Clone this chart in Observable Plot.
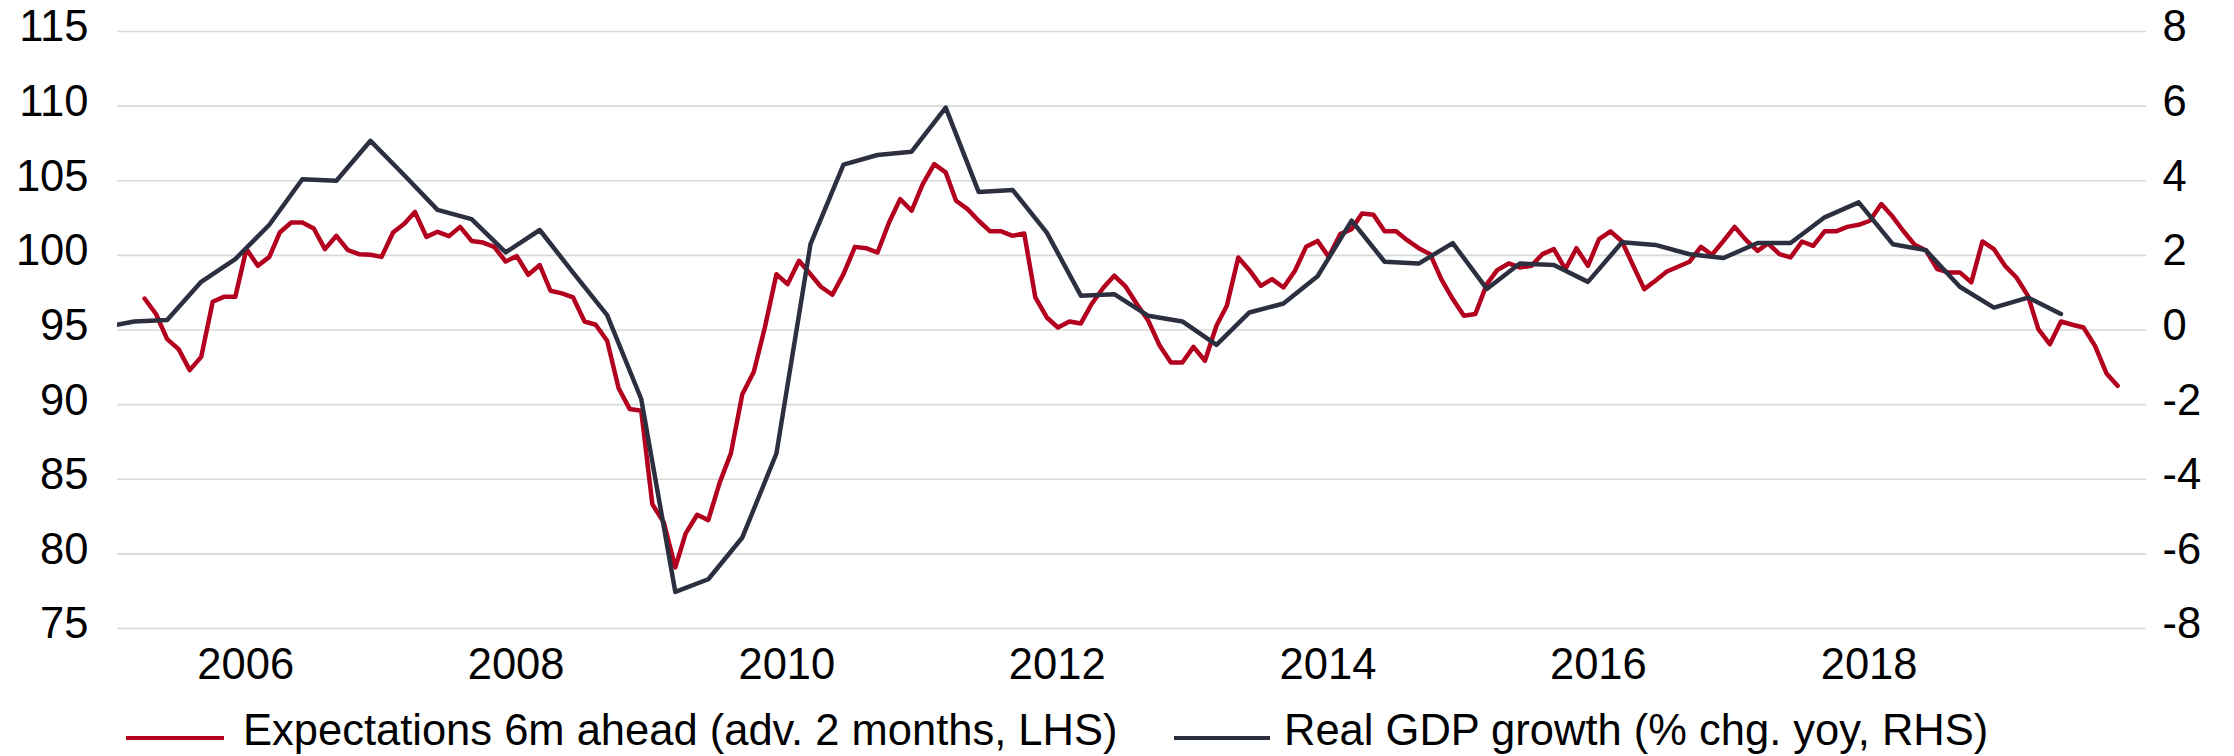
<!DOCTYPE html>
<html><head><meta charset="utf-8">
<script src="https://cdn.jsdelivr.net/npm/d3@7"></script>
<script src="https://cdn.jsdelivr.net/npm/@observablehq/plot@0.6"></script>
<style>
html,body{margin:0;padding:0;background:#fff;}
#wrap{position:relative;width:2234px;height:756px;overflow:hidden;font-family:"Liberation Sans",Arial,sans-serif;}
#wrap svg{position:absolute;left:0;top:0;}
.sw{position:absolute;height:4.5px;}
.lt{position:absolute;font-size:43.5px;line-height:43.5px;white-space:nowrap;color:#000;}
</style></head><body><div id="wrap"></div>
<script>
// Expectations 6m ahead (advanced 2 months, LHS), monthly from Mar 2005
const expStart = "2005-03-15";
const expValues = [
97.11,96.07,94.39,93.72,92.31,93.20,96.89,97.22,97.22,100.42,99.30,99.90,
101.53,102.20,102.20,101.80,100.42,101.31,100.35,100.08,100.04,99.90,101.53,102.13,
102.91,101.24,101.58,101.29,101.91,100.97,100.86,100.57,99.59,99.95,98.70,99.35,
97.63,97.45,97.18,95.57,95.35,94.28,91.10,89.70,89.59,83.33,82.10,79.09,
81.37,82.62,82.26,84.79,86.73,90.70,92.20,95.20,98.74,98.07,99.64,98.74,
97.90,97.36,98.74,100.57,100.48,100.19,102.20,103.77,102.99,104.77,106.11,105.56,
103.66,103.10,102.32,101.61,101.61,101.31,101.47,97.18,95.84,95.17,95.57,95.44,
96.74,97.81,98.64,97.90,96.74,95.62,93.94,92.82,92.82,93.87,92.94,95.28,
96.62,99.86,99.01,97.96,98.41,97.85,98.97,100.57,100.97,99.90,101.42,101.76,
102.81,102.72,101.61,101.61,101.02,100.48,100.08,98.41,97.07,95.95,96.07,98.07,
99.01,99.46,99.19,99.30,100.08,100.42,99.08,100.48,99.30,101.09,101.61,100.93,
99.37,97.74,98.30,98.92,99.24,99.57,100.57,100.04,100.97,101.91,101.02,100.30,
100.80,100.09,99.86,100.93,100.64,101.61,101.61,101.91,102.05,102.32,103.44,102.58,
101.65,100.71,100.35,99.08,98.86,98.86,98.19,100.93,100.42,99.30,98.52,97.29,
95.06,94.05,95.57,95.35,95.17,93.94,92.09,91.26
];
// Real GDP growth (% yoy, RHS), quarterly from Q4 2004 (plotted mid-quarter)
const gdpStart = "2004-11-15";
const gdpValues = [
0.05,
0.23,0.27,1.29,1.90,
2.82,4.04,4.00,5.07,
4.14,3.22,2.97,2.08,
2.68,1.54,0.40,-1.85,
-7.02,-6.68,-5.56,-3.31,
2.30,4.43,4.69,4.78,
5.96,3.70,3.75,2.61,
0.92,0.96,0.38,0.23,
-0.40,0.47,0.71,1.44,
2.93,1.83,1.78,2.33,
1.10,1.78,1.74,1.29,
2.35,2.28,2.03,1.93,
2.33,2.33,3.02,3.42,
2.30,2.14,1.16,0.60,
0.87,0.43
];
const yearTicks = [2006, 2008, 2010, 2012, 2014, 2016, 2018];
const leftTicks = [75, 80, 85, 90, 95, 100, 105, 110, 115];
const rightTicks = [-8, -6, -4, -2, 0, 2, 4, 6, 8];
const seriesNames = ["Expectations 6m ahead (adv. 2 months, LHS)", "Real GDP growth (% chg. yoy, RHS)"];
const seriesColors = ["#b3001e", "#2b2f40"];

// right axis value r maps onto left scale as 95 + 2.5 r
const toLeft = r => 95 + 2.5 * r;

const expData = expValues.map((v, i) => ({date: d3.utcMonth.offset(new Date(expStart), i), value: v}));
const gdpData = gdpValues.map((v, i) => ({date: d3.utcMonth.offset(new Date(gdpStart), 3 * i), value: v}));
const yearDates = yearTicks.map(y => new Date(Date.UTC(y, 0, 1)));
const rightLabel = new Map(rightTicks.map(r => [toLeft(r), String(r)]));

const FS = 43.5;
const chart = Plot.plot({
  width: 2234, height: 700,
  marginLeft: 117, marginRight: 88, marginTop: 31, marginBottom: 72,
  style: {fontFamily: "'Liberation Sans', Arial, sans-serif", fontSize: FS + "px", color: "#000", background: "#fff", overflow: "visible"},
  x: {type: "utc", domain: [new Date(Date.UTC(2005, 0, 1)), new Date(Date.UTC(2020, 0, 1))]},
  y: {domain: [75, 115]},
  marks: [
    Plot.gridY(leftTicks, {stroke: "#d9d9d9", strokeOpacity: 1, strokeWidth: 1.6}),
    Plot.axisY(leftTicks, {anchor: "left", tickSize: 0, tickPadding: 29, dy: -4, fontSize: FS, fill: "#000", tickFormat: d => String(d), label: null}),
    Plot.axisY(rightTicks.map(toLeft), {anchor: "right", tickSize: 0, tickPadding: 16, dy: -4, fontSize: FS, fill: "#000", tickFormat: d => rightLabel.get(d), label: null}),
    Plot.axisX(yearDates, {anchor: "bottom", tickSize: 0, tickPadding: 20, dx: -7, fontSize: FS, fill: "#000", tickFormat: d => String(d.getUTCFullYear()), label: null}),
    Plot.line(expData, {x: "date", y: "value", stroke: seriesColors[0], strokeWidth: 4.5, clip: true}),
    Plot.line(gdpData, {x: "date", y: d => toLeft(d.value), stroke: seriesColors[1], strokeWidth: 4.5, clip: true})
  ]
});
const wrap = document.getElementById("wrap");
wrap.appendChild(chart);

// legend below the plot
const legendPos = [{sw: 126, sww: 98, tx: 243}, {sw: 1174, sww: 96, tx: 1284}];
seriesNames.forEach((name, i) => {
  const s = document.createElement("div");
  s.className = "sw";
  s.style.left = legendPos[i].sw + "px";
  s.style.width = legendPos[i].sww + "px";
  s.style.top = "735.5px";
  s.style.background = seriesColors[i];
  wrap.appendChild(s);
  const t = document.createElement("div");
  t.className = "lt";
  t.style.left = legendPos[i].tx + "px";
  t.style.top = "709px";
  t.textContent = name;
  wrap.appendChild(t);
});
</script></body></html>
